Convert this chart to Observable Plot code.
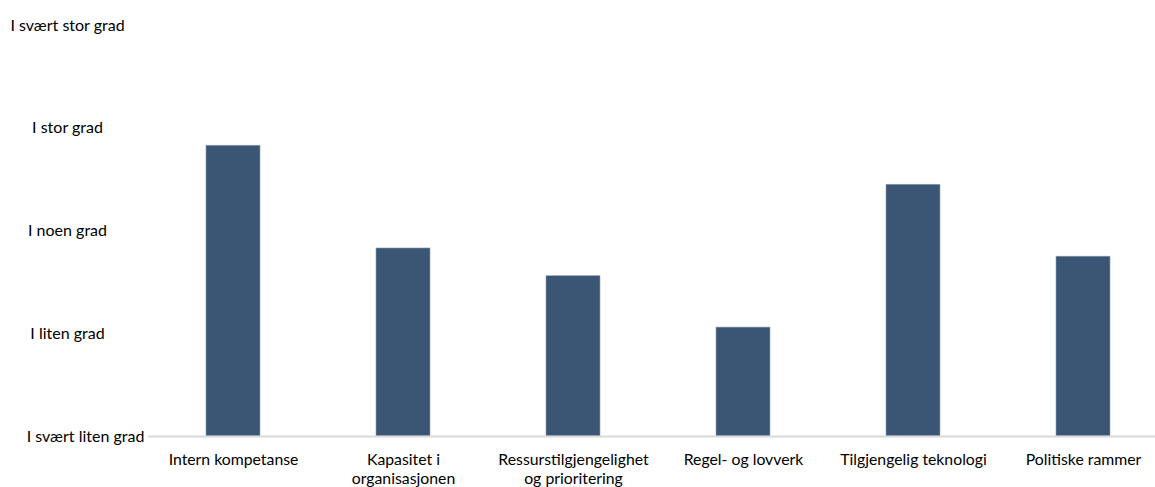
<!DOCTYPE html>
<html>
<head>
<meta charset="utf-8">
<script src="https://cdn.jsdelivr.net/npm/d3@7"></script>
<script src="https://cdn.jsdelivr.net/npm/@observablehq/plot@0.6"></script>
<style>
  html, body { margin: 0; padding: 0; background: #fff; }
  #chart { width: 1155px; height: 487px; overflow: hidden; }
</style>
</head>
<body>
<div id="chart"></div>
<script>
const categories = [
  "Intern kompetanse",
  "Kapasitet i\norganisasjonen",
  "Ressurstilgjengelighet\nog prioritering",
  "Regel- og lovverk",
  "Tilgjengelig teknologi",
  "Politiske rammer"
];
const values = [3.83, 2.83, 2.56, 2.06, 3.45, 2.75];
const yTicks = [1, 2, 3, 4, 5];
const yTickLabels = ["I svært liten grad", "I liten grad", "I noen grad", "I stor grad", "I svært stor grad"];

const data = categories.map((c, i) => ({category: c, value: values[i]}));
const labelOf = v => yTickLabels[yTicks.indexOf(v)];

const chart = Plot.plot({
  width: 1155,
  height: 487,
  marginTop: 25,
  marginBottom: 51,
  marginLeft: 148,
  marginRight: 0,
  style: {fontFamily: "Lato, 'Open Sans', sans-serif", fontSize: "16px", color: "#000", background: "#fff", overflow: "hidden"},
  x: {domain: categories, range: [145, 1170], paddingInner: 0.685, paddingOuter: 0.34, label: null},
  y: {domain: [1, 5], label: null},
  marks: [
    Plot.barY(data, {x: "category", y1: 1, y2: "value", fill: "#3B5675", stroke: "#8fa0b3", strokeWidth: 0.6}),
    Plot.ruleY([1], {stroke: "#d9d9d9", strokeWidth: 2}),
    Plot.axisX({tickSize: 0, tickPadding: 16, fontSize: 15.8, fill: "#000", label: null, lineHeight: 1.15, textAnchor: "middle"}),
    Plot.axisY(yTicks.filter(t => t > 1), {tickSize: 0, tickFormat: labelOf, textAnchor: "middle", dx: -72, fill: "#000", fontSize: 16, label: null}),
    Plot.axisY([1], {tickSize: 0, tickFormat: labelOf, textAnchor: "middle", dx: -54, fill: "#000", fontSize: 16, label: null})
  ]
});
document.getElementById("chart").appendChild(chart);
</script>
</body>
</html>
